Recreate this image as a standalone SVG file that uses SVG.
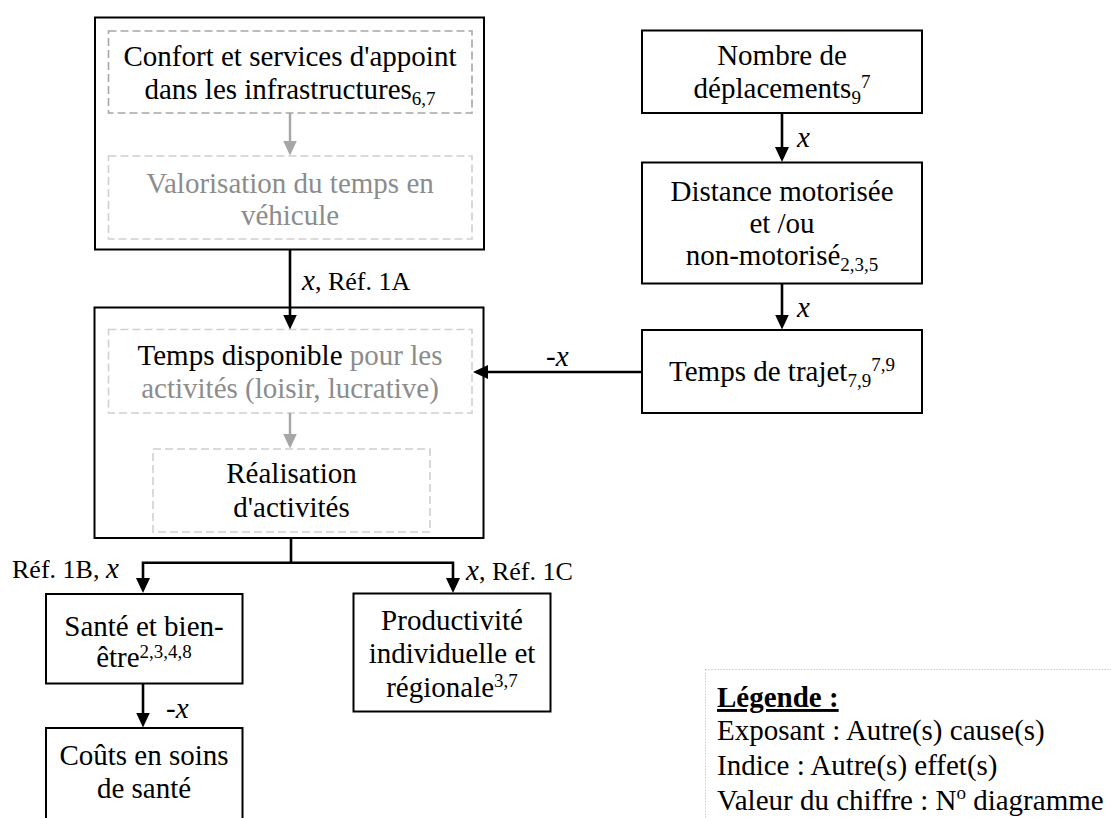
<svg xmlns="http://www.w3.org/2000/svg" width="1111" height="818" viewBox="0 0 1111 818">
  <style>
    text { font-family: "Liberation Serif", "Times New Roman", serif; font-size: 29px; fill: #000; }
    .c { text-anchor: middle; }
    .g { fill: #8c8c8c; }
    .lbl { font-size: 26px; }
    .it { font-style: italic; font-size: 29px; }
    .s { font-size: 19px; }
    .box { fill: #fff; stroke: #000; stroke-width: 2; }
    .dash1 { fill: none; stroke: #a6a6a6; stroke-width: 1.6; stroke-dasharray: 8 4; }
    .dash2 { fill: none; stroke: #d0d0d0; stroke-width: 1.6; stroke-dasharray: 8 4; }
    .wire { fill: none; stroke: #000; stroke-width: 2.6; }
    .gwire { fill: none; stroke: #a6a6a6; stroke-width: 2.4; }
    .legend { fill: none; stroke: #b0b0b0; stroke-width: 1; stroke-dasharray: 1 2; }
  </style>
  <defs>
    <marker id="ah" viewBox="0 0 15 14" refX="10" refY="7" markerWidth="15" markerHeight="14" markerUnits="userSpaceOnUse" orient="auto">
      <path d="M0,0 L15,7 L0,14 z" fill="#000"/>
    </marker>
    <marker id="gah" viewBox="0 0 15 14" refX="10" refY="7" markerWidth="15" markerHeight="14" markerUnits="userSpaceOnUse" orient="auto">
      <path d="M0,0 L15,7 L0,14 z" fill="#a6a6a6"/>
    </marker>
  </defs>

  <!-- Comfort / in-vehicle time group -->
  <g id="confort-group">
    <rect class="box" x="95" y="17.5" width="389" height="232"/>
    <rect class="dash1" x="108.5" y="31" width="363.5" height="82"/>
    <text class="c" x="290" y="65.5">Confort et services d'appoint</text>
    <text class="c" x="290" y="99">dans les infrastructures<tspan class="s" dy="6">6,7</tspan></text>
    <rect class="dash2" x="108.5" y="156" width="363.5" height="83"/>
    <text class="c g" x="290" y="192.5">Valorisation du temps en</text>
    <text class="c g" x="290" y="224.5">véhicule</text>
  </g>

  <!-- Available time / activities group -->
  <g id="activites-group">
    <rect class="box" x="94.5" y="307.5" width="389" height="230.5"/>
    <rect class="dash2" x="108.5" y="329.5" width="363.5" height="83.5"/>
    <text class="c" x="290" y="364.5">Temps disponible<tspan class="g"> pour les</tspan></text>
    <text class="c g" x="290" y="397.5">activités (loisir, lucrative)</text>
    <rect class="dash2" x="153" y="449" width="277" height="83"/>
    <text class="c" x="291.5" y="483">Réalisation</text>
    <text class="c" x="291.5" y="516.5">d'activités</text>
  </g>

  <g id="nombre">
    <rect class="box" x="642" y="30.5" width="280" height="82.5"/>
    <text class="c" x="782" y="65">Nombre de</text>
    <text class="c" x="782" y="97.5">déplacements<tspan class="s" dy="6">9</tspan><tspan class="s" dy="-16">7</tspan></text>
  </g>

  <g id="distance">
    <rect class="box" x="642" y="162.5" width="280" height="121"/>
    <text class="c" x="782" y="201">Distance motorisée</text>
    <text class="c" x="782" y="232.5">et /ou</text>
    <text class="c" x="782" y="264.5">non-motorisé<tspan class="s" dy="6">2,3,5</tspan></text>
  </g>

  <g id="temps-trajet">
    <rect class="box" x="642" y="330" width="280" height="83"/>
    <text class="c" x="782" y="381">Temps de trajet<tspan class="s" dy="6">7,9</tspan><tspan class="s" dy="-16">7,9</tspan></text>
  </g>

  <g id="sante">
    <rect class="box" x="46" y="594" width="196.5" height="89.5"/>
    <text class="c" x="144" y="636">Santé et bien-</text>
    <text class="c" x="144" y="667">être<tspan class="s" dy="-9">2,3,4,8</tspan></text>
  </g>

  <g id="couts">
    <rect class="box" x="46" y="728" width="196.5" height="100"/>
    <text class="c" x="144" y="765">Coûts en soins</text>
    <text class="c" x="144" y="798">de santé</text>
  </g>

  <g id="productivite">
    <rect class="box" x="353.5" y="593.5" width="197" height="118"/>
    <text class="c" x="452" y="630">Productivité</text>
    <text class="c" x="452" y="663">individuelle et</text>
    <text class="c" x="452" y="696.5">régionale<tspan class="s" dy="-10">3,7</tspan></text>
  </g>

  <!-- Connectors -->
  <g id="connectors">
    <path class="gwire" d="M290,113 V150.5" marker-end="url(#gah)"/>
    <path class="gwire" d="M290,413 V443.5" marker-end="url(#gah)"/>
    <path class="wire" d="M290,249.5 V324.5" marker-end="url(#ah)"/>
    <path class="wire" d="M782,113 V157" marker-end="url(#ah)"/>
    <path class="wire" d="M782,283.5 V324.5" marker-end="url(#ah)"/>
    <path class="wire" d="M642,372 H478" marker-end="url(#ah)"/>
    <path class="wire" d="M291,538 V562.7"/>
    <path class="wire" d="M292.3,562.7 H143 V588" marker-end="url(#ah)"/>
    <path class="wire" d="M289.7,562.7 H453 V588" marker-end="url(#ah)"/>
    <path class="wire" d="M143,683.5 V722.5" marker-end="url(#ah)"/>

    <text x="302" y="290"><tspan class="it">x</tspan><tspan class="lbl">, Réf. 1A</tspan></text>
    <text class="it" x="797" y="147">x</text>
    <text class="it" x="797" y="317">x</text>
    <text x="546" y="366">-<tspan class="it">x</tspan></text>
    <text class="lbl" x="12" y="578">Réf. 1B,</text>
    <text class="it" x="106" y="578">x</text>
    <text x="466" y="580"><tspan class="it">x</tspan><tspan class="lbl">, Réf. 1C</tspan></text>
    <text x="166" y="718">-<tspan class="it">x</tspan></text>
  </g>

  <!-- Legend -->
  <g id="legende">
    <rect class="legend" x="705.5" y="669.5" width="420" height="200"/>
    <text x="717" y="707" font-weight="bold" text-decoration="underline">Légende :</text>
    <text x="717" y="740">Exposant : Autre(s) cause(s)</text>
    <text x="717" y="775">Indice : Autre(s) effet(s)</text>
    <text x="717" y="810">Valeur du chiffre : N<tspan class="s" dy="-11">o</tspan><tspan dy="11"> diagramme</tspan></text>
  </g>
</svg>
